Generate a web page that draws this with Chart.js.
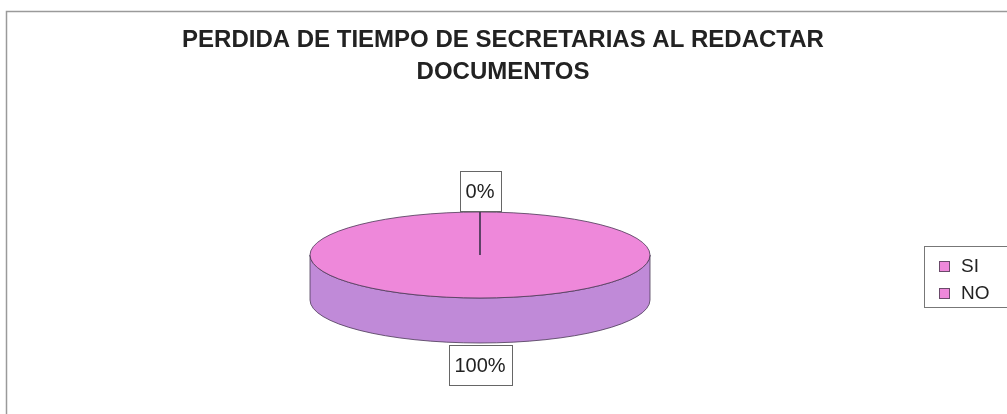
<!DOCTYPE html>
<html>
<head>
<meta charset="utf-8">
<script src="https://cdn.jsdelivr.net/npm/chart.js@4.4.1/dist/chart.umd.min.js"></script>
<style>
html,body{margin:0;padding:0;background:#fff;}
#wrap{position:relative;width:1007px;height:414px;}
</style>
</head>
<body>
<div id="wrap"><canvas id="c" width="1007" height="414"></canvas></div>
<script>
const titleLines = ["PERDIDA DE TIEMPO DE SECRETARIAS AL REDACTAR", "DOCUMENTOS"];
const categories = ["SI", "NO"];
const values = [0, 100];
const topColors = ["#EE88DA", "#EE88DA"];
const sideColors = ["#C08AD8", "#C08AD8"];

// geometry of the 3D pie on screen
const PIE = {cx: 480, cy: 255, rx: 170, ry: 43, depth: 45};

function pieTransform(ctx, el) {
  const R = el.outerRadius;
  ctx.translate(PIE.cx, PIE.cy);
  ctx.scale(PIE.rx / R, PIE.ry / R);
  ctx.translate(-el.x, -el.y);
}

const pie3d = {
  id: 'pie3d',
  beforeDatasetsDraw(chart) {
    const ctx = chart.ctx;
    const meta = chart.getDatasetMeta(0);
    const el0 = meta.data[0];
    const R = el0.outerRadius;
    const d = PIE.depth * R / PIE.ry;
    meta.data.forEach((el, i) => {
      const segs = [];
      for (let k = -1; k <= 1; k++) {
        const s = Math.max(el.startAngle + k * 2 * Math.PI, 0);
        const e = Math.min(el.endAngle + k * 2 * Math.PI, Math.PI);
        if (e > s) segs.push([s, e]);
      }
      segs.forEach(([s, e]) => {
        ctx.save();
        pieTransform(ctx, el);
        ctx.beginPath();
        ctx.arc(el.x, el.y, R, s, e);
        ctx.arc(el.x, el.y + d, R, e, s, true);
        ctx.closePath();
        ctx.restore();
        ctx.fillStyle = sideColors[i];
        ctx.fill();
        ctx.strokeStyle = '#4a3a55';
        ctx.lineWidth = 0.8;
        ctx.stroke();
      });
    });
    ctx.save();
    pieTransform(ctx, el0);
  },
  afterDatasetsDraw(chart) {
    const ctx = chart.ctx;
    ctx.restore();
    const meta = chart.getDatasetMeta(0);
    meta.data.forEach((el) => {
      const R = el.outerRadius;
      ctx.save();
      pieTransform(ctx, el);
      ctx.beginPath();
      ctx.moveTo(el.x, el.y);
      ctx.arc(el.x, el.y, R, el.startAngle, el.endAngle);
      ctx.closePath();
      ctx.restore();
      ctx.strokeStyle = '#4a3a55';
      ctx.lineWidth = 0.8;
      ctx.stroke();
    });
    const total = values.reduce((a, b) => a + b, 0);
    ctx.font = '20px "Liberation Sans", Arial, sans-serif';
    ctx.textAlign = 'center';
    ctx.textBaseline = 'middle';
    meta.data.forEach((el, i) => {
      const mid = (el.startAngle + el.endAngle) / 2;
      const pct = Math.round(values[i] / total * 100) + '%';
      const ex = PIE.cx + PIE.rx * Math.cos(mid);
      let ey = PIE.cy + PIE.ry * Math.sin(mid);
      const down = Math.sin(mid) > 0;
      if (down) ey += PIE.depth;
      const w = Math.round(ctx.measureText(pct).width + 12);
      const h = 40;
      const bx = Math.round(ex - w / 2);
      const by = Math.round(down ? ey + 2 : ey - h - 1);
      ctx.fillStyle = '#fff';
      ctx.fillRect(bx, by, w, h);
      ctx.strokeStyle = '#666';
      ctx.lineWidth = 1;
      ctx.strokeRect(bx + 0.5, by + 0.5, w, h);
      ctx.fillStyle = '#222';
      ctx.fillText(pct, ex, by + h / 2 + 1);
    });
  },
  afterDraw(chart) {
    const ctx = chart.ctx;
    ctx.save();
    ctx.strokeStyle = '#9a9a9a';
    ctx.lineWidth = 1.5;
    ctx.beginPath();
    ctx.moveTo(6.5, 420);
    ctx.lineTo(6.5, 11.5);
    ctx.lineTo(1010, 11.5);
    ctx.stroke();
    // title
    ctx.fillStyle = '#222';
    ctx.font = 'bold 24px "Liberation Sans", Arial, sans-serif';
    ctx.textAlign = 'center';
    ctx.textBaseline = 'middle';
    titleLines.forEach((t, i) => ctx.fillText(t, 503, 40 + i * 32));
    // legend
    ctx.strokeStyle = '#777';
    ctx.lineWidth = 1;
    ctx.strokeRect(924.5, 246.5, 90, 61);
    ctx.font = '19px "Liberation Sans", Arial, sans-serif';
    ctx.textAlign = 'left';
    categories.forEach((c, i) => {
      const y = 266 + i * 27;
      ctx.fillStyle = topColors[i];
      ctx.fillRect(939, y - 5, 11, 11);
      ctx.strokeStyle = '#6a4a6a';
      ctx.strokeRect(939.5, y - 4.5, 10, 10);
      ctx.fillStyle = '#222';
      ctx.fillText(c, 961, y + 1);
    });
    ctx.restore();
  }
};

new Chart(document.getElementById('c'), {
  type: 'pie',
  data: {
    labels: categories,
    datasets: [{
      data: values,
      backgroundColor: topColors,
      borderWidth: 0
    }]
  },
  options: {
    responsive: false,
    animation: false,
    rotation: 0,
    layout: {padding: {top: 100, bottom: 20, left: 300, right: 300}},
    plugins: {
      legend: {display: false},
      tooltip: {enabled: false},
      title: {display: false}
    }
  },
  plugins: [pie3d]
});
</script>
</body>
</html>
